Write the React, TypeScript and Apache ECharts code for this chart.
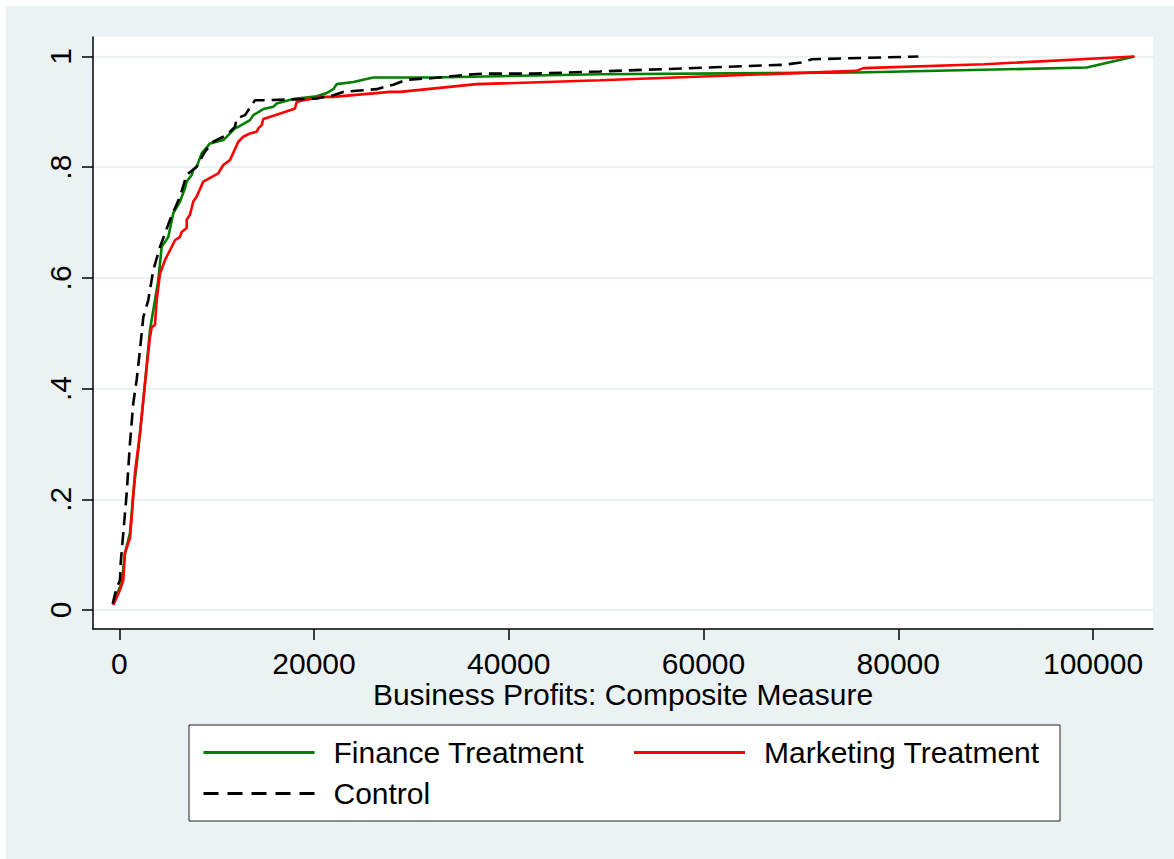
import React, { useEffect, useRef } from "react";
import * as echarts from "echarts";

const FONT = "'Liberation Sans', Arial, Helvetica, sans-serif";

const seriesNames = ["Finance Treatment", "Marketing Treatment", "Control"];
const xTickValues = [0, 20000, 40000, 60000, 80000, 100000];
const yTickValues = [0, 0.2, 0.4, 0.6, 0.8, 1];
const yTickLabels = ["0", ".2", ".4", ".6", ".8", "1"];

const financeX = [-616, 246, 585, 1099, 1438, 1951, 2300, 2639, 3153, 3666, 4005, 4354, 5032, 5546, 6234, 6747, 6922, 7435, 7600, 7949, 8462, 9315, 10681, 11194, 11882, 12221, 13423, 13762, 14789, 15816, 16165, 17870, 20273, 21300, 21978, 22327, 24032, 26086, 32248, 49368, 75688, 99363, 104250];
const financeY = [0.013, 0.049, 0.103, 0.139, 0.211, 0.289, 0.349, 0.41, 0.506, 0.56, 0.596, 0.656, 0.674, 0.717, 0.738, 0.762, 0.774, 0.786, 0.795, 0.801, 0.825, 0.843, 0.849, 0.858, 0.87, 0.873, 0.885, 0.894, 0.905, 0.909, 0.915, 0.923, 0.928, 0.934, 0.941, 0.95, 0.954, 0.962, 0.962, 0.968, 0.971, 0.98, 1.0];

const marketingX = [-616, 72, 411, 585, 1099, 1273, 1612, 2126, 2465, 2814, 3153, 3327, 3666, 3841, 4180, 4693, 5032, 5720, 6234, 6408, 6922, 6922, 7261, 7600, 7949, 8627, 10167, 10681, 11369, 12221, 12735, 13423, 14111, 14275, 14625, 14789, 15991, 17531, 18044, 18219, 18897, 20951, 21978, 27801, 28829, 36705, 49368, 75688, 76429, 88807, 104250];
const marketingY = [0.009, 0.036, 0.054, 0.103, 0.13, 0.168, 0.248, 0.32, 0.379, 0.439, 0.493, 0.511, 0.515, 0.56, 0.608, 0.632, 0.644, 0.668, 0.674, 0.683, 0.69, 0.705, 0.714, 0.738, 0.747, 0.774, 0.789, 0.804, 0.813, 0.846, 0.855, 0.861, 0.864, 0.87, 0.876, 0.887, 0.894, 0.903, 0.906, 0.918, 0.921, 0.927, 0.927, 0.936, 0.936, 0.95, 0.957, 0.974, 0.979, 0.986, 1.0];

const controlX = [-678, -339, 72, 144, 411, 760, 1099, 1438, 1787, 2126, 2465, 2978, 3492, 4180, 5207, 6234, 6922, 7949, 8801, 9654, 11030, 11882, 12057, 12910, 13937, 15138, 20273, 21978, 23005, 24381, 26435, 28140, 29516, 32248, 36356, 37383, 42518, 49368, 68162, 70011, 71140, 82068];
const controlY = [0.011, 0.036, 0.054, 0.085, 0.139, 0.211, 0.302, 0.374, 0.416, 0.47, 0.529, 0.56, 0.614, 0.656, 0.705, 0.747, 0.786, 0.801, 0.828, 0.846, 0.858, 0.873, 0.888, 0.894, 0.921, 0.921, 0.924, 0.93, 0.936, 0.938, 0.941, 0.949, 0.958, 0.961, 0.968, 0.969, 0.969, 0.973, 0.985, 0.989, 0.995, 1.0];

const zip = (xs: number[], ys: number[]) => xs.map((x, i) => [x, ys[i]]);

export default function App() {
  const ref = useRef<HTMLDivElement>(null);
  useEffect(() => {
    if (!ref.current) return;
    const chart = echarts.init(ref.current, undefined, { renderer: "svg" });
    const axisLineStyle = { color: "#000", width: 1.5 };
    const option: any = {
      animation: false,
      backgroundColor: "transparent",
      grid: {
        left: 93,
        top: 37,
        right: 21,
        bottom: 230,
        show: true,
        backgroundColor: "#ffffff",
        borderWidth: 0,
      },
      xAxis: {
        type: "value",
        min: -2700,
        max: 106160,
        name: "Business Profits: Composite Measure",
        nameLocation: "middle",
        nameGap: 53,
        nameMoveOverlap: false,
        nameTextStyle: { fontSize: 30, lineHeight: 24, color: "#000", fontFamily: FONT },
        axisLine: { show: true, onZero: false, lineStyle: axisLineStyle },
        axisTick: { show: true, length: 11, lineStyle: axisLineStyle, customValues: xTickValues },
        axisLabel: {
          customValues: xTickValues,
          fontSize: 30,
          lineHeight: 24,
          color: "#000",
          fontFamily: FONT,
          margin: 22,
          formatter: (v: number) => String(v),
        },
        splitLine: { show: false },
      },
      yAxis: {
        type: "value",
        min: -0.0343,
        max: 1.0352,
        axisLine: { show: true, onZero: false, lineStyle: axisLineStyle },
        axisTick: { show: true, length: 11, lineStyle: axisLineStyle, customValues: yTickValues },
        axisLabel: {
          customValues: yTickValues,
          rotate: 90,
          fontSize: 30,
          color: "#000",
          fontFamily: FONT,
          margin: 18,
          formatter: (v: number) => {
            const i = yTickValues.findIndex((t) => Math.abs(t - v) < 1e-6);
            return i >= 0 ? yTickLabels[i] : "";
          },
        },
        splitLine: { show: true, lineStyle: { color: "#EAF2F3", width: 2 } },
      },
      legend: {
        data: [
          { name: seriesNames[0] },
          { name: seriesNames[1] },
          { name: seriesNames[2], lineStyle: { type: [15, 9] } },
        ],
        left: 189,
        top: 725,
        width: 860,
        orient: "horizontal",
        padding: [11, 5, 11, 13],
        backgroundColor: "#ffffff",
        borderColor: "#222",
        borderWidth: 1,
        itemWidth: 111,
        itemHeight: 14,
        itemGap: 8,
        itemStyle: { opacity: 0 },
        lineStyle: { width: 3 },
        textStyle: {
          fontSize: 30,
          color: "#000",
          fontFamily: FONT,
          width: 291,
          lineHeight: 33,
          padding: [0, 0, 0, 14],
        },
      },
      series: [
        {
          name: seriesNames[0],
          type: "line",
          symbol: "none",
          data: zip(financeX, financeY),
          lineStyle: { color: "#008000", width: 2.6 },
          itemStyle: { color: "#008000" },
        },
        {
          name: seriesNames[1],
          type: "line",
          symbol: "none",
          data: zip(marketingX, marketingY),
          lineStyle: { color: "#FF0000", width: 2.6 },
          itemStyle: { color: "#FF0000" },
        },
        {
          name: seriesNames[2],
          type: "line",
          symbol: "none",
          data: zip(controlX, controlY),
          lineStyle: { color: "#000000", width: 2.6, type: [13, 7] },
          itemStyle: { color: "#000000" },
        },
      ],
    };
    chart.setOption(option);
    return () => chart.dispose();
  }, []);

  return (
    <div style={{ position: "fixed", left: 0, top: 0, width: 1174, height: 859, background: "#ffffff" }}>
      <div style={{ position: "absolute", left: 6, top: 6, width: 1168, height: 853, background: "#EAF2F3" }} />
      <div ref={ref} style={{ position: "absolute", left: 0, top: 0, width: 1174, height: 859 }} />
    </div>
  );
}
